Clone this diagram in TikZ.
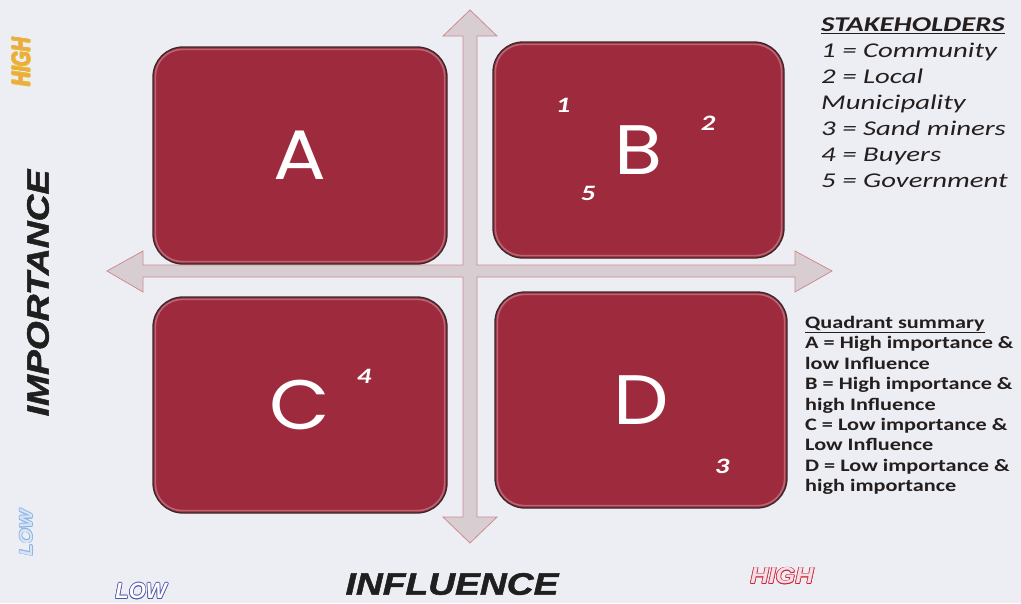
\documentclass[tikz,border=0pt]{standalone}
\usepackage{fontspec}
\setmainfont{Liberation Sans}
\newfontfamily\stakefont[FakeStretch=1.37]{Carlito}
\newfontfamily\summfont[FakeStretch=1.27]{Carlito}
\newfontfamily\numfont[FakeStretch=1.3]{Carlito}
\newfontfamily\quadfont[FakeStretch=1.12]{Poppins}
\newfontfamily\axisfont[FakeStretch=1.2,FakeBold=1.6]{Liberation Sans}
\newfontfamily\scalefontA[FakeStretch=0.75]{Liberation Sans}
\newfontfamily\scalefontB[FakeStretch=1.1]{Liberation Sans}
\definecolor{bg}{RGB}{237,238,243}
\definecolor{quadfill}{RGB}{158,42,62}
\definecolor{quadedge}{RGB}{60,40,42}
\definecolor{axisfill}{RGB}{216,206,210}
\definecolor{axisedge}{RGB}{204,140,146}
\definecolor{legendtext}{RGB}{36,30,30}
\definecolor{hiyellow}{RGB}{230,192,50}
\definecolor{hiorange}{RGB}{238,170,70}
\definecolor{lolightblue}{RGB}{135,180,228}
\definecolor{lopaleblue}{RGB}{215,228,246}
\definecolor{lopurple}{RGB}{80,84,170}
\definecolor{hired}{RGB}{200,40,62}
\definecolor{hipink}{RGB}{246,222,228}
\newcommand{\outlinetxt}[3]{\leavevmode
  \rlap{\color{#1}\hspace*{-0.7pt}#3}\rlap{\color{#1}\hspace*{0.7pt}#3}%
  \rlap{\color{#1}\raisebox{0.7pt}{#3}}\rlap{\color{#1}\raisebox{-0.7pt}{#3}}%
  \rlap{\color{#1}\hspace*{0.5pt}\raisebox{0.5pt}{#3}}\rlap{\color{#1}\hspace*{-0.5pt}\raisebox{-0.5pt}{#3}}%
  \rlap{\color{#1}\hspace*{0.5pt}\raisebox{-0.5pt}{#3}}\rlap{\color{#1}\hspace*{-0.5pt}\raisebox{0.5pt}{#3}}%
  {\color{#2}#3}}
\begin{document}
\begin{tikzpicture}[x=1pt,y=-1pt,
  quad/.style={draw=quadedge, line width=1.3pt, fill=quadfill, rounded corners=30pt,
    inner sep=0pt, text=white, font=\quadfont\fontsize{70pt}{70pt}\selectfont},
  gloss/.style={draw=white, opacity=0.28, line width=1.6pt, rounded corners=27pt},
  num/.style={inner sep=0pt, text=white, font=\numfont\bfseries\itshape\fontsize{22pt}{22pt}\selectfont},
  axisarrow/.style={fill=axisfill, draw=axisedge, line width=0.8pt, line join=miter},
  axislabel/.style={inner sep=0pt, text=black!88, font=\axisfont\bfseries\itshape\fontsize{31pt}{31pt}\selectfont},
  legend/.style={inner sep=0pt, align=left, text=legendtext}]
\useasboundingbox (0,0) rectangle (1021,603);
\fill[bg] (0,0) rectangle (1021,603);

% axes (cross of two double arrows)
\draw[axisarrow] (470,10) -- (497,36) -- (477,36) -- (477,265) -- (795,265) -- (795,251)
  -- (832,271) -- (795,292) -- (795,277) -- (477,277) -- (477,517) -- (497,517)
  -- (470,543) -- (443,517) -- (463,517) -- (463,277) -- (143,277) -- (143,292)
  -- (107,271) -- (143,251) -- (143,265) -- (463,265) -- (463,36) -- (443,36) -- cycle;

% quadrants
\node[quad, minimum width=294pt, minimum height=217pt] (A) at (300,155.5) {A};
\node[quad, minimum width=291pt, minimum height=216pt] (B) at (638.5,150) {B};
\node[quad, minimum width=294pt, minimum height=216pt] (C) at (300,405) {C};
\node[quad, minimum width=292pt, minimum height=216pt] (D) at (641,400) {D};
\foreach \q in {A,B,C,D}{
  \draw[gloss] ([shift={(3pt,-3pt)}]\q.north west) rectangle ([shift={(-3pt,3pt)}]\q.south east);
}

% stakeholder numbers
\node[num] (n1) at (563,105) {1};
\node[num] (n2) at (708,123) {2};
\node[num] (n5) at (588,193) {5};
\node[num] (n4) at (364,376) {4};
\node[num] (n3) at (722,466) {3};

% axis titles
\node[axislabel, rotate=90] (importance) at (38,293) {IMPORTANCE};
\node[axislabel] (influence) at (452,584) {INFLUENCE};

% scale words
\node[inner sep=0pt, rotate=90, font=\scalefontA\bfseries\itshape\fontsize{26pt}{26pt}\selectfont] (hiV) at (21,62) {\outlinetxt{hiyellow}{hiorange}{HIGH}};
\node[inner sep=0pt, rotate=90, font=\scalefontB\bfseries\itshape\fontsize{18pt}{18pt}\selectfont] (loV) at (26,533) {\outlinetxt{lolightblue}{lopaleblue}{LOW}};
\node[inner sep=0pt, font=\bfseries\itshape\fontsize{22pt}{22pt}\selectfont] (loH) at (141,591) {\outlinetxt{lopurple}{white}{LOW}};
\node[inner sep=0pt, font=\scalefontB\bfseries\itshape\fontsize{23pt}{23pt}\selectfont] (hiH) at (782,576) {\outlinetxt{hired}{hipink}{HIGH}};

% legends
\node[legend, anchor=north west, font=\stakefont\itshape\fontsize{21pt}{26pt}\selectfont] (stake) at (821,18)
  {\textbf{\underline{STAKEHOLDERS}}\\1 = Community\\2 = Local\\Municipality\\3 = Sand miners\\4 = Buyers\\5 = Government};
\node[legend, anchor=north west, font=\summfont\bfseries\fontsize{17.5pt}{20.4pt}\selectfont] (summary) at (805,316)
  {\underline{Quadrant summary}\\A = High importance \&\\low Influence\\B = High importance \&\\high Influence\\C = Low importance \&\\Low Influence\\D = Low importance \&\\high importance};
\end{tikzpicture}
\end{document}
